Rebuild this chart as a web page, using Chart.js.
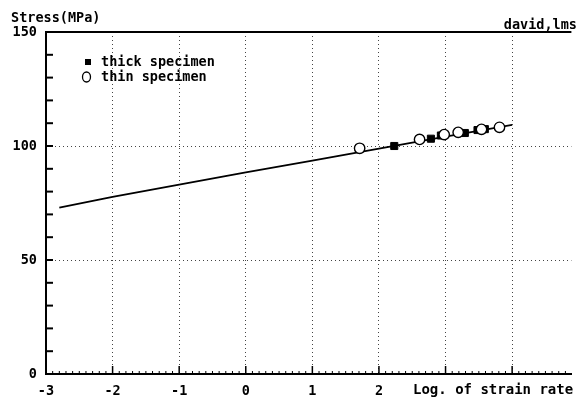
<!DOCTYPE html>
<html><head><meta charset="utf-8">
<script src="https://cdn.jsdelivr.net/npm/chart.js@4"></script>
<style>html,body{margin:0;padding:0;background:#fff;}#wrap{width:578px;height:402px;}</style>
</head><body><div id="wrap"><canvas id="c" width="578" height="402"></canvas></div>
<script>
// ---- data ----
const yTitle = 'Stress(MPa)';
const cornerNote = 'david,lms';
const xTitle = 'Log. of strain rate';
const xTickLabels = [-3, -2, -1, 0, 1, 2];
const yTickLabels = [0, 50, 100, 150];
const xGridValues = [-2, -1, 0, 1, 2, 3, 4];
const yGridValues = [50, 100];
const thickLabel = 'thick specimen';
const thinLabel = 'thin specimen';
const thickX = [2.23, 2.78, 2.93, 3.29, 3.48, 3.59];
const thickY = [100.0, 103.2, 104.6, 105.7, 107.0, 107.4];
const thinX = [1.71, 2.61, 2.98, 3.19, 3.54, 3.81];
const thinY = [99.0, 102.9, 105.0, 106.0, 107.3, 108.2];
const fitX = [-2.8, -2, -1, 0, 1, 2, 3, 4];
const fitY = [73.0, 77.7, 83.1, 88.4, 93.6, 98.8, 104.1, 109.3];

const FONT = "'DejaVu Sans Mono', monospace";
const toPts = (xs, ys) => xs.map((x, i) => ({x: x, y: ys[i]}));

const decor = {
  id: 'decor',
  beforeDatasetsDraw(chart) {
    const ctx = chart.ctx, a = chart.chartArea;
    const xs = chart.scales.x, ys = chart.scales.y;
    ctx.save();
    ctx.strokeStyle = '#000';
    ctx.lineWidth = 2;
    ctx.beginPath(); ctx.moveTo(a.left, a.top); ctx.lineTo(a.right, a.top); ctx.stroke();
    ys.ticks.forEach(t => {
      const p = ys.getPixelForValue(t.value);
      ctx.beginPath(); ctx.moveTo(a.left, p); ctx.lineTo(a.left + 7, p); ctx.stroke();
    });
    ctx.lineWidth = 1.5;
    xs.ticks.forEach(t => {
      const p = xs.getPixelForValue(t.value);
      ctx.beginPath(); ctx.moveTo(p, a.bottom); ctx.lineTo(p, a.bottom - 8); ctx.stroke();
    });
    ctx.lineWidth = 1;
    for (let k = Math.ceil(xs.min * 10); k <= Math.floor(xs.max * 10); k++) {
      if (k % 10 === 0) continue;
      const p = xs.getPixelForValue(k / 10);
      ctx.beginPath(); ctx.moveTo(p, a.bottom); ctx.lineTo(p, a.bottom - 3); ctx.stroke();
    }
    ctx.restore();
  },
  afterDraw(chart) {
    const ctx = chart.ctx;
    ctx.save();
    ctx.fillStyle = '#000';
    ctx.font = 'bold 13.5px ' + FONT;
    ctx.textBaseline = 'middle';
    ctx.textAlign = 'left';
    ctx.fillText(yTitle, 11, 18);
    ctx.textAlign = 'right';
    ctx.fillText(cornerNote, 577, 25);
    ctx.textAlign = 'left';
    ctx.font = 'bold 14px ' + FONT;
    ctx.fillText(xTitle, 413, 390);
    const ds = chart.data.datasets;
    ctx.font = 'bold 13.5px ' + FONT;
    ctx.fillRect(85, 59, 6, 6);
    ctx.fillText(ds[0].label, 101, 62);
    ctx.lineWidth = 1.3;
    ctx.strokeStyle = '#000';
    ctx.beginPath(); ctx.ellipse(86.5, 77, 4, 5, 0, 0, Math.PI * 2); ctx.stroke();
    ctx.fillText(ds[1].label, 101, 77);
    ctx.restore();
  }
};

new Chart(document.getElementById('c'), {
  type: 'scatter',
  data: {
    datasets: [
      { label: thickLabel, data: toPts(thickX, thickY), pointStyle: 'rect', pointRadius: 5,
        backgroundColor: '#000', borderColor: '#000', borderWidth: 1, order: 1 },
      { label: thinLabel, data: toPts(thinX, thinY), pointStyle: 'circle', pointRadius: 5.2,
        backgroundColor: '#fff', borderColor: '#000', borderWidth: 1.4, order: 0 },
      { type: 'line', label: 'fit', data: toPts(fitX, fitY), showLine: true, pointRadius: 0,
        borderColor: '#000', borderWidth: 1.8, fill: false, tension: 0, order: 2 }
    ]
  },
  options: {
    responsive: false,
    animation: false,
    devicePixelRatio: 1,
    layout: { padding: { top: 32, left: 0, right: 0, bottom: 0 } },
    plugins: { legend: { display: false }, tooltip: { enabled: false } },
    scales: {
      x: {
        type: 'linear', min: -3, max: 4.89,
        afterBuildTicks: s => { const t = []; for (let v = -3; v <= 4; v++) t.push({value: v}); s.ticks = t; },
        afterFit: s => { s.height = 28; s.paddingRight = 0; s.paddingLeft = 0; },
        grid: { drawTicks: false, lineWidth: 1,
          color: c => (c.tick && xGridValues.includes(c.tick.value)) ? '#444' : 'rgba(0,0,0,0)' },
        border: { display: true, color: '#000', width: 2, dash: [1, 3] },
        ticks: { color: '#000', font: { family: FONT, size: 13.5, weight: 'bold' }, padding: 9,
          maxRotation: 0, autoSkip: false,
          callback: v => xTickLabels.includes(v) ? String(v) : '' }
      },
      y: {
        type: 'linear', min: 0, max: 150,
        afterBuildTicks: s => { const t = []; for (let v = 0; v <= 150; v += 10) t.push({value: v}); s.ticks = t; },
        afterFit: s => { s.width = 46; },
        grid: { drawTicks: false, lineWidth: 1,
          color: c => (c.tick && yGridValues.includes(c.tick.value)) ? '#444' : 'rgba(0,0,0,0)' },
        border: { display: true, color: '#000', width: 2, dash: [1, 3] },
        ticks: { color: '#000', font: { family: FONT, size: 13.5, weight: 'bold' }, padding: 9,
          autoSkip: false,
          callback: v => yTickLabels.includes(v) ? String(v) : '' }
      }
    }
  },
  plugins: [decor]
});
</script></body></html>
